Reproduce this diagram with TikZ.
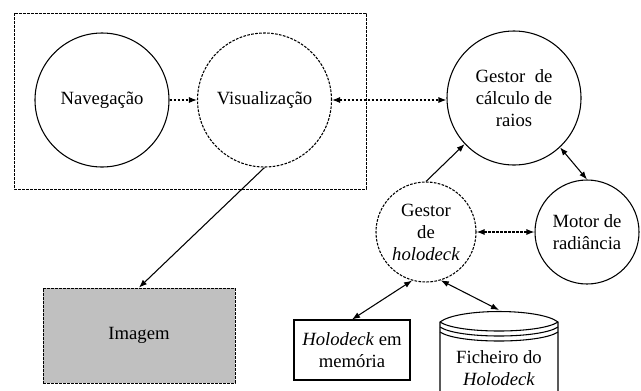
\documentclass[tikz,border=0pt]{standalone}
\usepackage{fontspec}
\setmainfont{Liberation Serif}
\usepackage{tikz}
\usetikzlibrary{arrows.meta}

\begin{document}
\begin{tikzpicture}[x=0.75pt, y=-0.75pt, line width=0.8pt,
  every node/.style={font=\fontsize{14}{16.5}\selectfont, align=center, inner sep=0pt},
  proc/.style={draw, circle, minimum size=100.5pt},
  dsh/.style={dash pattern=on 2pt off 1pt},
  tip/.style={-{Latex[length=6pt, width=4.5pt]}},
  dtip/.style={{Latex[length=6pt, width=4.5pt]}-{Latex[length=6pt, width=4.5pt]}}]
  \useasboundingbox (0,0) rectangle (641,390);
  \draw[dsh, line width=0.6pt] (14,13) rectangle (366,189);
  \node[proc] (nav) at (102,100) {Navegação};
  \node[proc, dsh] (vis) at (264.5,100) {Visualização};
  \node[proc] (ges) at (514,98) {Gestor\ \ de\\cálculo de\\raios};
  \node[proc, dsh, minimum size=75pt] (hol) at (426,232) {Gestor\\de\\\textit{holodeck}};
  \node[proc, minimum size=78pt] (mot) at (587,232) {Motor de\\radiância};
  \node[draw, dsh, line width=0.6pt, fill={rgb,255:red,192;green,192;blue,192},
    minimum width=144pt, minimum height=71.25pt] (img) at (139,335.5) {Imagem};
  \node[draw, minimum width=87pt, minimum height=45pt] (mem) at (352,350)
    {\textit{Holodeck} em\\memória};
  \node (fich) at (499,368) {Ficheiro do\\\textit{Holodeck}};
  \coordinate (fichtop) at (499,310);
  \draw (440,395) -- (440,322) .. controls (458,308) and (540,308) .. (558,322) -- (558,395);
  \draw (440,322) .. controls (458,334) and (540,334) .. (558,322);
  \draw (440,327) .. controls (458,339) and (540,339) .. (558,327);
  \draw (440,332) .. controls (458,344) and (540,344) .. (558,332);
  \draw[dsh, tip] (nav) -- (vis);
  \draw[dsh, dtip] (vis) -- (ges.west |- vis);
  \draw[tip] (vis.south) -- (img.north);
  \draw[tip] (hol.north) -- (ges.223);
  \draw[dtip] (ges.313) -- (mot.north);
  \draw[dsh, dtip] (hol.east) -- (mot.west);
  \draw[dtip] (hol.254) -- (mem.north);
  \draw[dtip] (hol.287) -- (fichtop);
\end{tikzpicture}
\end{document}
